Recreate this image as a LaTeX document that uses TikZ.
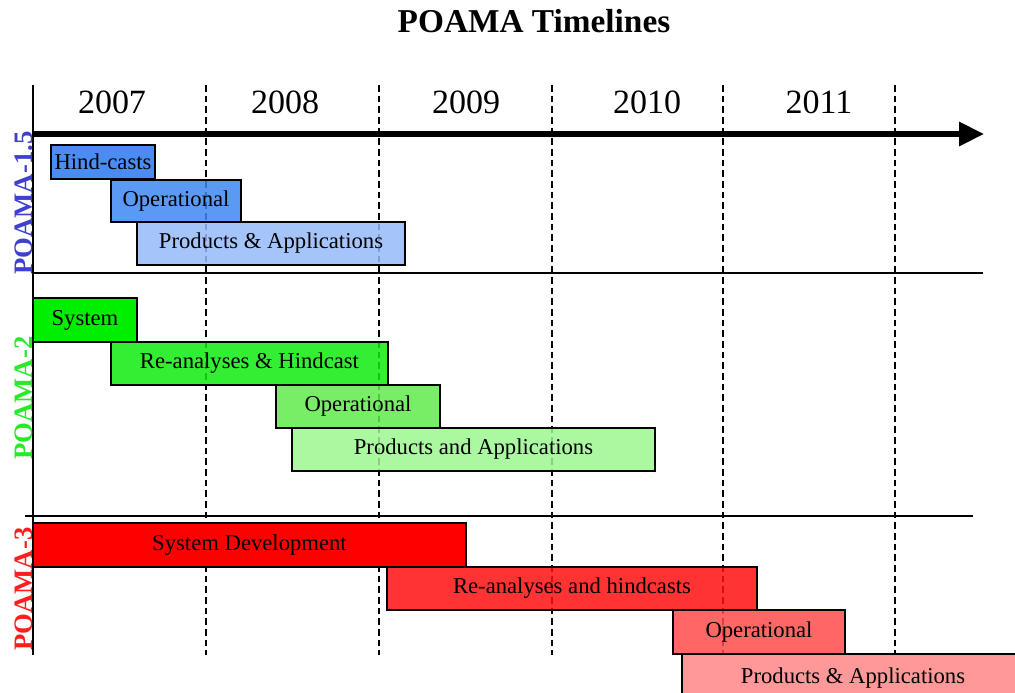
\documentclass[tikz,border=0pt]{standalone}
\usepackage{fontspec}
\setmainfont{Liberation Serif}
\usetikzlibrary{arrows.meta,fit}

% bar colours (base values, shown through a slight transparency)
\definecolor{bluehc}{RGB}{42,120,238}
\definecolor{blueop}{RGB}{61,136,243}
\definecolor{bluepa}{RGB}{149,187,249}
\definecolor{greensy}{RGB}{0,238,0}
\definecolor{greenra}{RGB}{15,235,15}
\definecolor{greenop}{RGB}{95,235,75}
\definecolor{greenpa}{RGB}{155,247,143}
\definecolor{redsd}{RGB}{255,0,0}
\definecolor{redra}{RGB}{255,15,15}
\definecolor{redop}{RGB}{255,75,75}
\definecolor{redpa}{RGB}{255,135,135}
% series label colours
\definecolor{lblblue}{RGB}{64,64,208}
\definecolor{lblgreen}{RGB}{40,235,40}
\definecolor{lblred}{RGB}{255,30,30}

\begin{document}
\begin{tikzpicture}[x=0.75pt,y=-0.75pt,
  bar/.style={draw=black, line width=1.5pt, fill opacity=0.85,
              inner sep=0pt, outer sep=0pt},
  solidbar/.style={bar, fill opacity=1},
  barlbl/.style={font=\fontsize{17}{20}\selectfont, inner sep=0pt},
  yearlbl/.style={font=\fontsize{25.5}{30}\selectfont, anchor=base},
  serieslbl/.style={font=\bfseries\fontsize{20}{24}\selectfont, rotate=90, anchor=base},
  gridline/.style={line width=1.1pt, dash pattern=on 5pt off 3pt},
  separator/.style={line width=1.5pt},
  axisline/.style={line width=1.1pt},
  timeline/.style={line width=3.8pt, -{Triangle[length=18.75pt,width=17.5pt]}}]

\useasboundingbox (0,0) rectangle (1015,693);
\clip (0,0) rectangle (1015,693);

% title
\node[font=\bfseries\fontsize{25}{30}\selectfont, anchor=base] (title) at (534,32) {POAMA Timelines};

% year columns
\foreach \gx in {206,379,552,723,895}
  \draw[gridline] (\gx,85) -- (\gx,655);
\node[yearlbl] (y2007) at (112,113) {2007};
\node[yearlbl] (y2008) at (285,113) {2008};
\node[yearlbl] (y2009) at (466,113) {2009};
\node[yearlbl] (y2010) at (647,113) {2010};
\node[yearlbl] (y2011) at (819,113) {2011};

% axis and separators
\coordinate (axtop) at (33,85);
\coordinate (axbot) at (33,655);
\draw[axisline] (axtop) -- (axbot);
\coordinate (sepa0) at (33,273);
\coordinate (sepa1) at (983,273);
\draw[separator] (sepa0) -- (sepa1);
\coordinate (sepb0) at (25,516);
\coordinate (sepb1) at (973,516);
\draw[separator] (sepb0) -- (sepb1);

% series labels
\node[serieslbl, text=lblblue]  (p15) at (32,203) {POAMA-1.5};
\node[serieslbl, text=lblgreen] (p2)  at (32,398) {POAMA-2};
\node[serieslbl, text=lblred]   (p3)  at (32,589) {POAMA-3};

% POAMA-1.5 bars
\node[bar, fill=bluehc, fit={(51,145) (155,179)}] (hc15) {};
\node[bar, fill=blueop, fit={(111,180) (241,222)}] (op15) {};
\node[bar, fill=bluepa, fit={(137,222) (405,265)}] (pa15) {};
\node[barlbl] (hc15t) at (hc15.center) {Hind-casts};
\node[barlbl] (op15t) at (op15.center) {Operational};
\node[barlbl] (pa15t) at (pa15.center) {Products \& Applications};

% POAMA-2 bars
\node[solidbar, fill=greensy, fit={(33,298) (137,342)}] (sy2) {};
\node[bar, fill=greenra, fit={(111,342) (388,385)}] (ra2) {};
\node[bar, fill=greenop, fit={(276,385) (440,428)}] (op2) {};
\node[bar, fill=greenpa, fit={(292,428) (655,471)}] (pa2) {};
\node[barlbl] (sy2t) at (sy2.center) {System};
\node[barlbl] (ra2t) at (ra2.center) {Re-analyses \& Hindcast};
\node[barlbl] (op2t) at (op2.center) {Operational};
\node[barlbl] (pa2t) at (pa2.center) {Products and Applications};

% POAMA-3 bars
\node[solidbar, fill=redsd, fit={(33,523) (466,567)}] (sd3) {};
\draw[line width=2.2pt] (sd3.north west) -- (sd3.north east);
\node[bar, fill=redra, fit={(387,567) (757,610)}] (ra3) {};
\node[bar, fill=redop, fit={(673,610) (845,654)}] (op3) {};
\node[bar, fill=redpa, fit={(682,654) (1024,697)}] (pa3) {};
\node[barlbl] (sd3t) at (sd3.center) {System Development};
\node[barlbl] (ra3t) at (ra3.center) {Re-analyses and hindcasts};
\node[barlbl] (op3t) at (op3.center) {Operational};
\node[barlbl] (pa3t) at ([yshift=-2pt]pa3.center) {Products \& Applications};

% time arrow
\coordinate (tl0) at (33,134);
\coordinate (tl1) at (984,134);
\draw[timeline] (tl0) -- (tl1);
\end{tikzpicture}
\end{document}
